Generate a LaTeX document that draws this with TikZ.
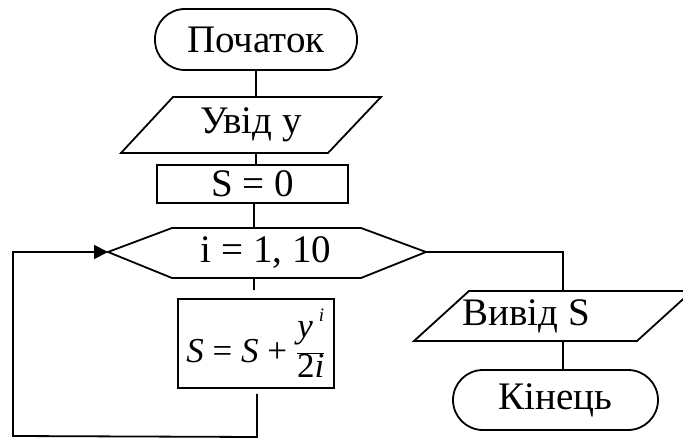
\documentclass[tikz,border=0pt]{standalone}
\usepackage{fontspec}
\setmainfont{Liberation Serif}
\usetikzlibrary{arrows.meta}
\tikzset{
  every picture/.style={x=1pt,y=-1pt},
  ln/.style={line width=1.8pt, line join=miter},
  term/.style={draw, ln, rectangle, rounded corners=30pt, inner sep=0pt},
  boxn/.style={draw, ln, rectangle, inner sep=0pt},
  txt/.style={inner sep=0pt, font=\fontsize{39}{44}\selectfont},
}
\begin{document}
\begin{tikzpicture}
\useasboundingbox (0,0) rectangle (683,441);
\clip (0,0) rectangle (683,441);
% start
\node[term, txt, minimum width=202pt, minimum height=61pt] (start) at (256,39.5) {Початок};
% input parallelogram
\draw[ln] (173,97) -- (381,97) -- (328,153) -- (121,153) -- cycle;
\node[txt, minimum height=56pt, minimum width=150pt] (in) at (251,125) {Увід у};
% S = 0
\node[boxn, txt, minimum width=191pt, minimum height=38pt] (s0) at (252.5,184) {S = 0};
% loop hexagon
\draw[ln] (108,252) -- (172,228) -- (361,228) -- (426,252) -- (361,278) -- (172,278) -- cycle;
\coordinate (hl) at (108,252);
\coordinate (hr) at (426,252);
\node[txt, minimum height=50pt, minimum width=120pt] (loop) at (266,253) {i = 1, 10};
% body
\node[boxn, minimum width=156pt, minimum height=89pt, inner sep=0pt,
      font=\fontsize{35}{38}\selectfont] (body) at (256,343.5)
  {\raisebox{-3pt}{\textit{S} = \textit{S} + }$\displaystyle\frac{\mbox{\rule[-14pt]{0pt}{1pt}\textit{y}\,\raisebox{16pt}{\fontsize{19}{19}\selectfont\textit{i}}}}{\mbox{2\textit{i}}}$};
% output parallelogram
\draw[ln] (469,291) -- (692,291) -- (637,341) -- (414,341) -- cycle;
\node[txt, minimum height=50pt, minimum width=150pt] (out) at (526,316) {Вивід S};
% end
\node[term, txt, minimum width=205pt, minimum height=60pt] (end) at (555.5,400) {Кінець};
% connectors
\coordinate (c1) at (256,70);
\draw[ln] (start.south -| c1) -- (in.north -| c1);
\draw[ln] (in.south -| c1) -- (s0.north -| c1);
\coordinate (c2) at (254,0);
\draw[ln] (s0.south -| c2) -- (loop.north -| c2);
\draw[ln, shorten >=8pt] (loop.south -| c2) -- (body.north -| c2);
\coordinate (c3) at (257,437);
\coordinate (c4) at (13,436);
\draw[ln, shorten <=5pt, -{Triangle[length=14pt,width=14pt]}] (body.south -| c3) -- (c3) -- (c4) |- (hl);
\coordinate (c5) at (563,0);
\draw[ln] (hr) -| (out.north -| c5);
\draw[ln] (out.south -| c5) -- (end.north -| c5);
\end{tikzpicture}
\end{document}
